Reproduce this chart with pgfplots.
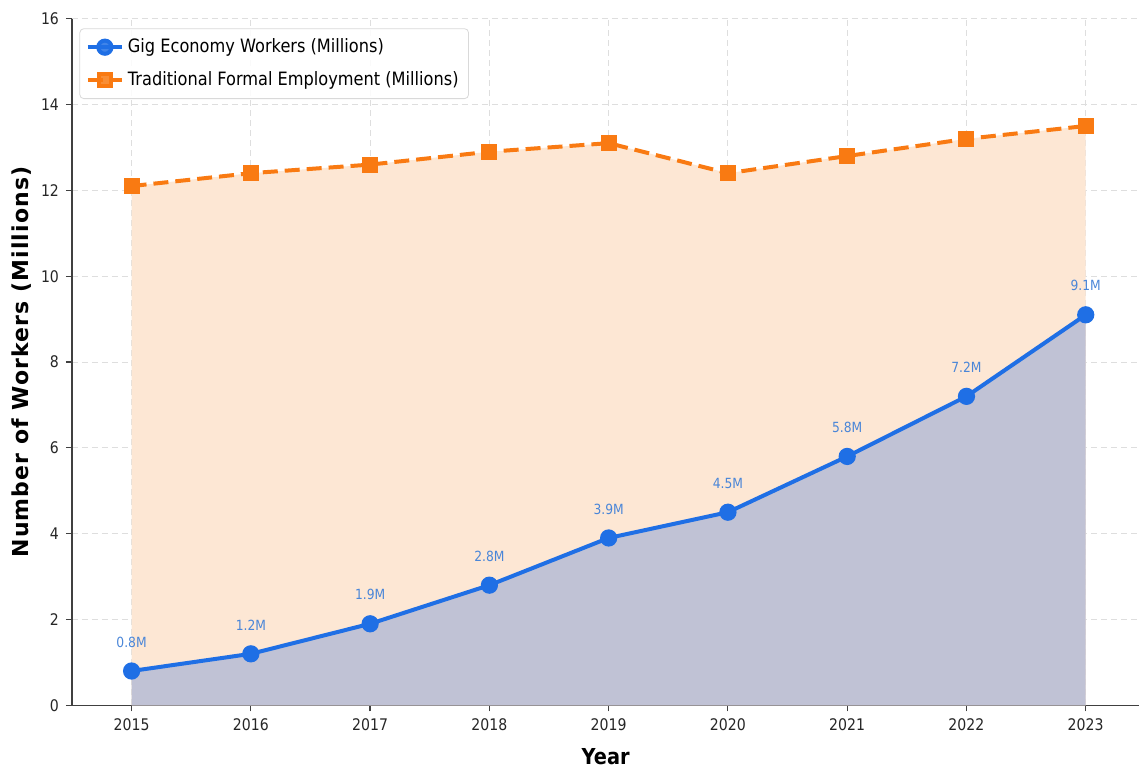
\documentclass[border={2.5pt 0pt 0pt 3pt}]{standalone}
\usepackage{fontspec}
\setmainfont{DejaVu Sans}[FakeStretch=0.88]
\newfontfamily\ylabfont{DejaVu Sans}[LetterSpace=5]
\usepackage{pgfplots}
\pgfplotsset{compat=1.18}
\definecolor{gigblue}{HTML}{1F6FE5}
\definecolor{labblue}{HTML}{4A86D8}
\definecolor{tradorange}{HTML}{F97A12}
\definecolor{orfill}{HTML}{FDE7D4}
\definecolor{gigfill}{HTML}{C0C2D5}
\begin{document}
\begin{tikzpicture}
\begin{axis}[
  scale only axis,
  width=534pt, height=343.5pt,
  xmin=2014.5, xmax=2023.45,
  ymin=0, ymax=16,
  xtick={2015,...,2023},
  ytick={0,2,...,16},
  xticklabel style={/pgf/number format/1000 sep={}},
  /pgf/number format/assume math mode=true,
  axis x line*=bottom, axis y line*=left,
  axis line style={-, draw=black!75, line width=0.6pt},
  tick style={draw=black!75, line width=0.6pt},
  tick align=outside, major tick length=3pt,
  grid=major,
  major grid style={densely dashed, draw=black!13, line width=0.5pt},
  ticklabel style={font=\fontsize{8}{9}\selectfont, text=black!85},
  xlabel={\bfseries Year},
  ylabel={\ylabfont\bfseries Number of Workers (Millions)},
  label style={font=\fontsize{11}{12}\selectfont},
  xlabel style={yshift=-2pt},
  ylabel style={yshift=-2pt},
  legend cell align=left,
  legend style={font=\fontsize{9.2}{11}\selectfont, draw=black!15, rounded corners=2pt, fill=white, fill opacity=0.85, text opacity=1, at={(0.007,0.986)}, anchor=north west, inner xsep=3pt, inner ysep=3pt, row sep=4pt},
]
% areas
\addplot[draw=none, fill=orfill, forget plot] coordinates {
(2015,12.1)(2016,12.4)(2017,12.6)(2018,12.9)(2019,13.1)(2020,12.4)(2021,12.8)(2022,13.2)(2023,13.5)} \closedcycle;
\addplot[draw=none, fill=gigfill, forget plot] coordinates {
(2015,0.8)(2016,1.2)(2017,1.9)(2018,2.8)(2019,3.9)(2020,4.5)(2021,5.8)(2022,7.2)(2023,9.1)} \closedcycle;
% lines
\addplot[gigblue, line width=2pt, mark=*, mark size=3.3pt, mark options={solid},
  nodes near coords={\pgfmathprintnumber[fixed,precision=1,fixed zerofill]{\pgfplotspointmeta}M},
  point meta=y,
  nodes near coords style={font=\fontsize{7}{8}\selectfont, text=labblue, anchor=south, yshift=7.5pt}]
 coordinates {(2015,0.8)(2016,1.2)(2017,1.9)(2018,2.8)(2019,3.9)(2020,4.5)(2021,5.8)(2022,7.2)(2023,9.1)};
\addlegendentry{Gig Economy Workers (Millions)}
\addplot[tradorange, line width=2pt, dash pattern=on 7.5pt off 3.5pt, mark=square*, mark size=3pt, mark options={solid}]
 coordinates {(2015,12.1)(2016,12.4)(2017,12.6)(2018,12.9)(2019,13.1)(2020,12.4)(2021,12.8)(2022,13.2)(2023,13.5)};
\addlegendentry{Traditional Formal Employment (Millions)}
\end{axis}
\end{tikzpicture}
\end{document}
